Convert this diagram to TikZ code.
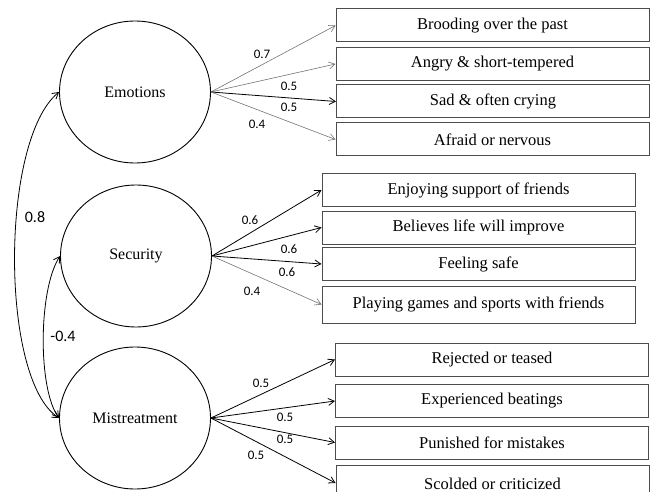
\documentclass[tikz,border=0pt]{standalone}
\usepackage{fontspec}
\setmainfont{Liberation Serif}
\newfontfamily\lblfont{Carlito}
\usetikzlibrary{shapes.geometric,arrows.meta}
\begin{document}
\begin{tikzpicture}[x=1pt,y=-1pt,
    latent/.style={ellipse,draw,line width=0.9pt,minimum width=151pt,minimum height=142pt,inner sep=0pt,font=\fontsize{16}{18}\selectfont},
    item/.style={rectangle,draw=black!70,line width=1pt,minimum width=313pt,minimum height=33pt,inner sep=0pt,font=\fontsize{16.5}{18}\selectfont},
    wt/.style={inner sep=0pt,font=\lblfont\fontsize{13}{15}\selectfont},
    cov/.style={inner sep=0pt,font=\lblfont\fontsize{16}{18}\selectfont},
    load/.style={-{Straight Barb[length=6pt,width=7pt]},line width=0.8pt},
    weak/.style={-{Straight Barb[length=6pt,width=7pt]},line width=0.6pt,draw=black!55}]
    \useasboundingbox (0,0) rectangle (656,492);
    \node[latent] at (135,92) (emo) {Emotions};
    \node[latent] at (136,256) (sec) {Security};
    \node[latent] at (135,418) (mis) {Mistreatment};
    \node[item] at (492.5,25.5) (emo1) {Brooding over the past};
    \node[item] at (492.5,64) (emo2) {Angry \& short-tempered};
    \node[item] at (493,101.5) (emo3) {Sad \& often crying};
    \node[item] at (492.5,139.5) (emo4) {Afraid or nervous};
    \node[item] at (478.5,190) (sec1) {Enjoying support of friends};
    \node[item] at (478.5,227.5) (sec2) {Believes life will improve};
    \node[item] at (478.5,264) (sec3) {Feeling safe};
    \node[item,minimum height=37pt] at (478.5,304.5) (sec4) {Playing games and sports with friends};
    \node[item] at (492,359.5) (mis1) {Rejected or teased};
    \node[item] at (492,401) (mis2) {Experienced beatings};
    \node[item] at (492,442.5) (mis3) {Punished for mistakes};
    \node[item,minimum height=38pt] at (492.5,484) (mis4) {Scolded or criticized};
    \draw[weak] (emo.east) -- (emo1.west);
    \draw[weak] (emo.east) -- (emo2.west);
    \draw[load] (emo.east) -- (emo3.west);
    \draw[weak] (emo.east) -- (emo4.west);
    \draw[load] (sec.east) -- (sec1.west);
    \draw[load] (sec.east) -- (sec2.west);
    \draw[load] (sec.east) -- (sec3.west);
    \draw[weak] (sec.east) -- (sec4.west);
    \draw[load] (mis.east) -- (mis1.west);
    \draw[load] (mis.east) -- (mis2.west);
    \draw[load] (mis.east) -- (mis3.west);
    \draw[load] (mis.east) -- ([yshift=1pt]mis4.west);
    \node[wt] at (262,54) (we1) {0.7};
    \node[wt] at (289,86) (we2) {0.5};
    \node[wt] at (289,107) (we3) {0.5};
    \node[wt] at (257,124) (we4) {0.4};
    \node[wt] at (250,220) (ws1) {0.6};
    \node[wt] at (289,249) (ws2) {0.6};
    \node[wt] at (287,272) (ws3) {0.6};
    \node[wt] at (252,291) (ws4) {0.4};
    \node[wt] at (261,383) (wm1) {0.5};
    \node[wt] at (285,417) (wm2) {0.5};
    \node[wt] at (285,439) (wm3) {0.5};
    \node[wt] at (256,455) (wm4) {0.5};
    \draw[{Straight Barb[length=6pt,width=7pt]}-{Straight Barb[length=6pt,width=7pt]},line width=0.8pt] (emo.west) .. controls (0,140) and (0,380) .. (mis.west);
    \draw[{Straight Barb[length=6pt,width=7pt]}-{Straight Barb[length=6pt,width=7pt]},line width=0.8pt] (sec.west) .. controls (38,290) and (38,390) .. (mis.west);
    \node[cov] at (35,217) (c1) {0.8};
    \node[cov] at (63,336) (c2) {-0.4};
\end{tikzpicture}
\end{document}
